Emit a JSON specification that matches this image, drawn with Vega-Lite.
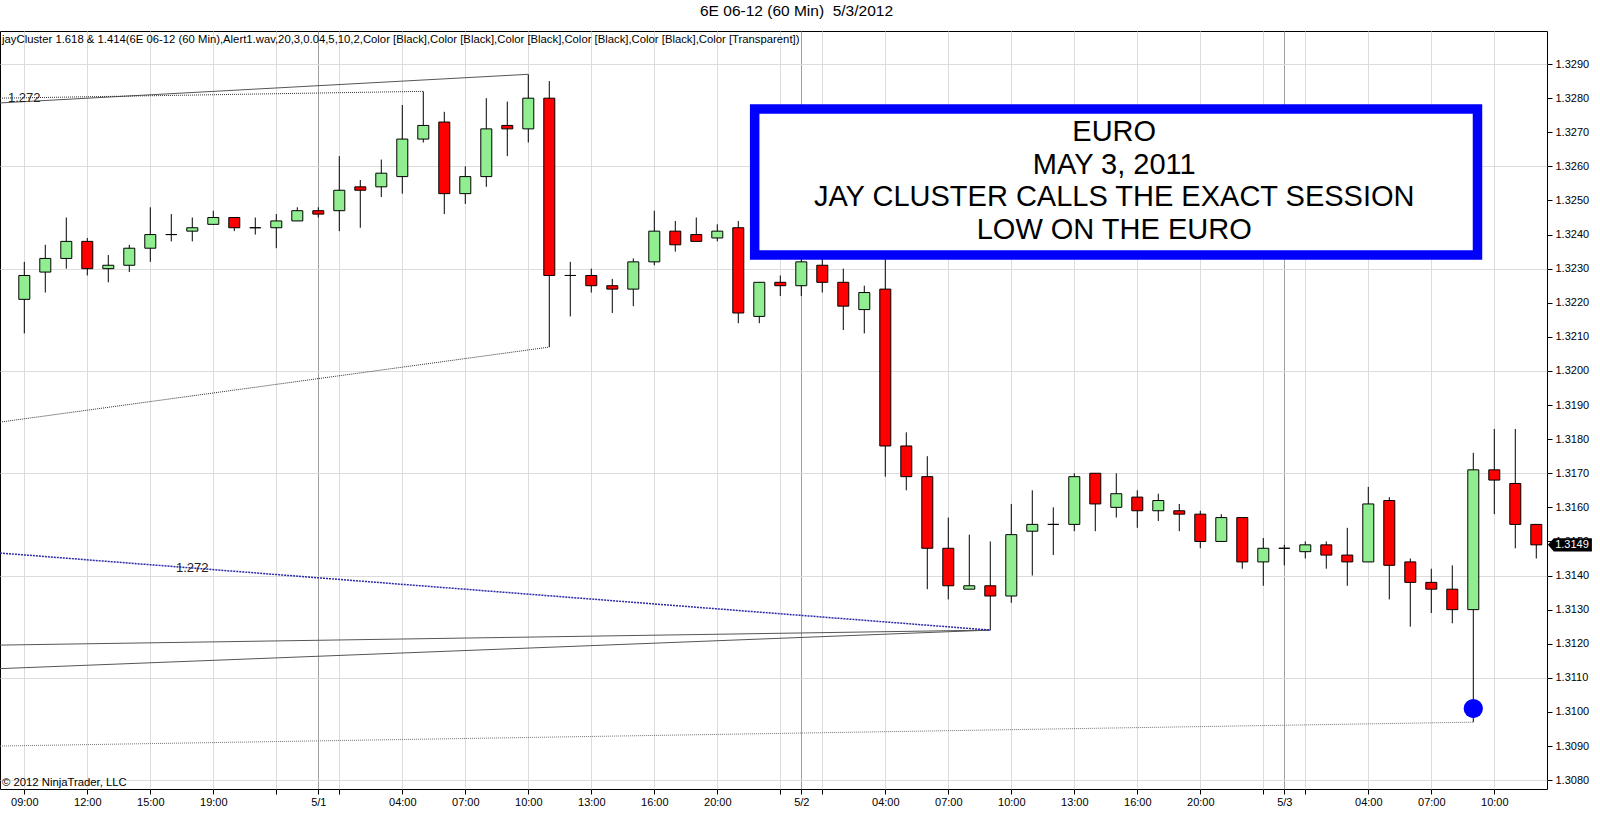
{
  "$schema": "https://vega.github.io/schema/vega-lite/v6.json",
  "autosize": "none",
  "width": 1547,
  "height": 758,
  "padding": {"left": 0, "top": 31, "right": 53, "bottom": 46},
  "background": "white",
  "title": {
    "text": "6E 06-12 (60 Min)\u00a0 5/3/2012",
    "anchor": "middle",
    "frame": "group",
    "dx": 23,
    "offset": 12,
    "font": "Liberation Sans",
    "fontSize": 15.5,
    "fontWeight": "normal",
    "color": "black"
  },
  "config": {
    "view": {"stroke": "black", "strokeWidth": 1},
    "text": {"font": "Liberation Sans"}
  },
  "datasets": {
    "candles": [
      {"t": "04-30 09:00", "i": 0, "open": 1.3221, "high": 1.3232, "low": 1.3211, "close": 1.3228},
      {"t": "04-30 10:00", "i": 1, "open": 1.3229, "high": 1.3237, "low": 1.3223, "close": 1.3233},
      {"t": "04-30 11:00", "i": 2, "open": 1.3233, "high": 1.3245, "low": 1.3230, "close": 1.3238},
      {"t": "04-30 12:00", "i": 3, "open": 1.3238, "high": 1.3239, "low": 1.3228, "close": 1.3230},
      {"t": "04-30 13:00", "i": 4, "open": 1.3230, "high": 1.3234, "low": 1.3226, "close": 1.3231},
      {"t": "04-30 14:00", "i": 5, "open": 1.3231, "high": 1.3237, "low": 1.3229, "close": 1.3236},
      {"t": "04-30 15:00", "i": 6, "open": 1.3236, "high": 1.3248, "low": 1.3232, "close": 1.3240},
      {"t": "04-30 16:00", "i": 7, "open": 1.3240, "high": 1.3246, "low": 1.3238, "close": 1.3240},
      {"t": "04-30 18:00", "i": 8, "open": 1.3241, "high": 1.3245, "low": 1.3238, "close": 1.3242},
      {"t": "04-30 19:00", "i": 9, "open": 1.3243, "high": 1.3247, "low": 1.3243, "close": 1.3245},
      {"t": "04-30 20:00", "i": 10, "open": 1.3245, "high": 1.3245, "low": 1.3241, "close": 1.3242},
      {"t": "04-30 21:00", "i": 11, "open": 1.3242, "high": 1.3245, "low": 1.3240, "close": 1.3242},
      {"t": "04-30 22:00", "i": 12, "open": 1.3242, "high": 1.3246, "low": 1.3236, "close": 1.3244},
      {"t": "04-30 23:00", "i": 13, "open": 1.3244, "high": 1.3248, "low": 1.3244, "close": 1.3247},
      {"t": "05-01 00:00", "i": 14, "open": 1.3247, "high": 1.3248, "low": 1.3245, "close": 1.3246},
      {"t": "05-01 01:00", "i": 15, "open": 1.3247, "high": 1.3263, "low": 1.3241, "close": 1.3253},
      {"t": "05-01 02:00", "i": 16, "open": 1.3254, "high": 1.3256, "low": 1.3242, "close": 1.3253},
      {"t": "05-01 03:00", "i": 17, "open": 1.3254, "high": 1.3262, "low": 1.3251, "close": 1.3258},
      {"t": "05-01 04:00", "i": 18, "open": 1.3257, "high": 1.3278, "low": 1.3252, "close": 1.3268},
      {"t": "05-01 05:00", "i": 19, "open": 1.3268, "high": 1.3282, "low": 1.3267, "close": 1.3272},
      {"t": "05-01 06:00", "i": 20, "open": 1.3273, "high": 1.3276, "low": 1.3246, "close": 1.3252},
      {"t": "05-01 07:00", "i": 21, "open": 1.3252, "high": 1.3260, "low": 1.3249, "close": 1.3257},
      {"t": "05-01 08:00", "i": 22, "open": 1.3257, "high": 1.3280, "low": 1.3254, "close": 1.3271},
      {"t": "05-01 09:00", "i": 23, "open": 1.3272, "high": 1.3279, "low": 1.3263, "close": 1.3271},
      {"t": "05-01 10:00", "i": 24, "open": 1.3271, "high": 1.3287, "low": 1.3267, "close": 1.3280},
      {"t": "05-01 11:00", "i": 25, "open": 1.3280, "high": 1.3285, "low": 1.3207, "close": 1.3228},
      {"t": "05-01 12:00", "i": 26, "open": 1.3228, "high": 1.3232, "low": 1.3216, "close": 1.3228},
      {"t": "05-01 13:00", "i": 27, "open": 1.3228, "high": 1.3230, "low": 1.3223, "close": 1.3225},
      {"t": "05-01 14:00", "i": 28, "open": 1.3225, "high": 1.3227, "low": 1.3217, "close": 1.3224},
      {"t": "05-01 15:00", "i": 29, "open": 1.3224, "high": 1.3233, "low": 1.3219, "close": 1.3232},
      {"t": "05-01 16:00", "i": 30, "open": 1.3232, "high": 1.3247, "low": 1.3231, "close": 1.3241},
      {"t": "05-01 18:00", "i": 31, "open": 1.3241, "high": 1.3244, "low": 1.3235, "close": 1.3237},
      {"t": "05-01 19:00", "i": 32, "open": 1.3240, "high": 1.3245, "low": 1.3238, "close": 1.3238},
      {"t": "05-01 20:00", "i": 33, "open": 1.3239, "high": 1.3243, "low": 1.3238, "close": 1.3241},
      {"t": "05-01 21:00", "i": 34, "open": 1.3242, "high": 1.3244, "low": 1.3214, "close": 1.3217},
      {"t": "05-01 22:00", "i": 35, "open": 1.3216, "high": 1.3226, "low": 1.3214, "close": 1.3226},
      {"t": "05-01 23:00", "i": 36, "open": 1.3226, "high": 1.3228, "low": 1.3222, "close": 1.3225},
      {"t": "05-02 00:00", "i": 37, "open": 1.3225, "high": 1.3236, "low": 1.3222, "close": 1.3232},
      {"t": "05-02 01:00", "i": 38, "open": 1.3231, "high": 1.3233, "low": 1.3223, "close": 1.3226},
      {"t": "05-02 02:00", "i": 39, "open": 1.3226, "high": 1.3230, "low": 1.3212, "close": 1.3219},
      {"t": "05-02 03:00", "i": 40, "open": 1.3218, "high": 1.3225, "low": 1.3211, "close": 1.3223},
      {"t": "05-02 04:00", "i": 41, "open": 1.3224, "high": 1.3236, "low": 1.3169, "close": 1.3178},
      {"t": "05-02 05:00", "i": 42, "open": 1.3178, "high": 1.3182, "low": 1.3165, "close": 1.3169},
      {"t": "05-02 06:00", "i": 43, "open": 1.3169, "high": 1.3175, "low": 1.3136, "close": 1.3148},
      {"t": "05-02 07:00", "i": 44, "open": 1.3148, "high": 1.3157, "low": 1.3133, "close": 1.3137},
      {"t": "05-02 08:00", "i": 45, "open": 1.3136, "high": 1.3152, "low": 1.3136, "close": 1.3137},
      {"t": "05-02 09:00", "i": 46, "open": 1.3137, "high": 1.3150, "low": 1.3124, "close": 1.3134},
      {"t": "05-02 10:00", "i": 47, "open": 1.3134, "high": 1.3161, "low": 1.3132, "close": 1.3152},
      {"t": "05-02 11:00", "i": 48, "open": 1.3153, "high": 1.3165, "low": 1.3140, "close": 1.3155},
      {"t": "05-02 12:00", "i": 49, "open": 1.3155, "high": 1.3160, "low": 1.3146, "close": 1.3155},
      {"t": "05-02 13:00", "i": 50, "open": 1.3155, "high": 1.3170, "low": 1.3153, "close": 1.3169},
      {"t": "05-02 14:00", "i": 51, "open": 1.3170, "high": 1.3170, "low": 1.3153, "close": 1.3161},
      {"t": "05-02 15:00", "i": 52, "open": 1.3160, "high": 1.3170, "low": 1.3157, "close": 1.3164},
      {"t": "05-02 16:00", "i": 53, "open": 1.3163, "high": 1.3165, "low": 1.3154, "close": 1.3159},
      {"t": "05-02 18:00", "i": 54, "open": 1.3159, "high": 1.3164, "low": 1.3156, "close": 1.3162},
      {"t": "05-02 19:00", "i": 55, "open": 1.3159, "high": 1.3161, "low": 1.3153, "close": 1.3158},
      {"t": "05-02 20:00", "i": 56, "open": 1.3158, "high": 1.3159, "low": 1.3148, "close": 1.3150},
      {"t": "05-02 21:00", "i": 57, "open": 1.3150, "high": 1.3158, "low": 1.3150, "close": 1.3157},
      {"t": "05-02 22:00", "i": 58, "open": 1.3157, "high": 1.3157, "low": 1.3142, "close": 1.3144},
      {"t": "05-02 23:00", "i": 59, "open": 1.3144, "high": 1.3151, "low": 1.3137, "close": 1.3148},
      {"t": "05-03 00:00", "i": 60, "open": 1.3148, "high": 1.3149, "low": 1.3143, "close": 1.3148},
      {"t": "05-03 01:00", "i": 61, "open": 1.3147, "high": 1.3150, "low": 1.3145, "close": 1.3149},
      {"t": "05-03 02:00", "i": 62, "open": 1.3149, "high": 1.3150, "low": 1.3142, "close": 1.3146},
      {"t": "05-03 03:00", "i": 63, "open": 1.3146, "high": 1.3154, "low": 1.3137, "close": 1.3144},
      {"t": "05-03 04:00", "i": 64, "open": 1.3144, "high": 1.3166, "low": 1.3144, "close": 1.3161},
      {"t": "05-03 05:00", "i": 65, "open": 1.3162, "high": 1.3163, "low": 1.3133, "close": 1.3143},
      {"t": "05-03 06:00", "i": 66, "open": 1.3144, "high": 1.3145, "low": 1.3125, "close": 1.3138},
      {"t": "05-03 07:00", "i": 67, "open": 1.3138, "high": 1.3142, "low": 1.3129, "close": 1.3136},
      {"t": "05-03 08:00", "i": 68, "open": 1.3136, "high": 1.3143, "low": 1.3126, "close": 1.3130},
      {"t": "05-03 09:00", "i": 69, "open": 1.3130, "high": 1.3176, "low": 1.3097, "close": 1.3171},
      {"t": "05-03 10:00", "i": 70, "open": 1.3171, "high": 1.3183, "low": 1.3158, "close": 1.3168},
      {"t": "05-03 11:00", "i": 71, "open": 1.3167, "high": 1.3183, "low": 1.3148, "close": 1.3155},
      {"t": "05-03 12:00", "i": 72, "open": 1.3155, "high": 1.3155, "low": 1.3145, "close": 1.3149}
    ],
    "trendlines": [
      {"id": "L1", "style": "solid", "i": -1.157, "price": 1.32786},
      {"id": "L1", "style": "solid", "i": 24, "price": 1.3287},
      {"id": "L2", "style": "dotted", "i": -1.157, "price": 1.3280},
      {"id": "L2", "style": "dotted", "i": 19, "price": 1.3282},
      {"id": "L3", "style": "dotted", "i": -1.157, "price": 1.3185},
      {"id": "L3", "style": "dotted", "i": 25, "price": 1.3207},
      {"id": "L4", "style": "blue", "i": -1.157, "price": 1.31466},
      {"id": "L4", "style": "blue", "i": 46, "price": 1.3124},
      {"id": "L5", "style": "solid", "i": -1.157, "price": 1.31196},
      {"id": "L5", "style": "solid", "i": 46, "price": 1.3124},
      {"id": "L6", "style": "solid", "i": -1.157, "price": 1.31127},
      {"id": "L6", "style": "solid", "i": 46, "price": 1.3124},
      {"id": "L7", "style": "faint", "i": -1.157, "price": 1.3090},
      {"id": "L7", "style": "faint", "i": 69, "price": 1.3097}
    ],
    "fib": [
      {"label": "1.272", "i": 0, "price": 1.3280},
      {"label": "1.272", "i": 8, "price": 1.31422}
    ],
    "marker": [{"i": 69, "price": 1.3101}],
    "last": [{"price": 1.3149, "label": "1.3149"}],
    "note": [{"text": "EURO|MAY 3, 2011|JAY CLUSTER CALLS THE EXACT SESSION|LOW ON THE EURO"}],
    "header": [{"text": "jayCluster 1.618 & 1.414(6E 06-12 (60 Min),Alert1.wav,20,3,0.04,5,10,2,Color [Black],Color [Black],Color [Black],Color [Black],Color [Black],Color [Transparent])"}],
    "footer": [{"text": "© 2012 NinjaTrader, LLC"}]
  },
  "layer": [
    {
      "data": {"name": "candles"},
      "mark": {"type": "rule", "color": "black", "strokeWidth": 1, "clip": true},
      "encoding": {
        "x": {
          "field": "i", "type": "quantitative",
          "scale": {"domain": [-1.157, 72.51], "nice": false, "zero": false, "padding": 0},
          "axis": {
            "title": null,
            "orient": "bottom",
            "values": [0, 3, 6, 9, 12, 14, 15, 18, 21, 24, 27, 30, 33, 36, 37, 38, 41, 44, 47, 50, 53, 56, 59, 60, 61, 64, 67, 70],
            "tickCount": 60,
            "labelExpr": "split('09:00,,,12:00,,,15:00,,,19:00,,,,,5/1,,,,04:00,,,07:00,,,10:00,,,13:00,,,16:00,,,20:00,,,,5/2,,,,04:00,,,07:00,,,10:00,,,13:00,,,16:00,,,20:00,,,,5/3,,,,04:00,,,07:00,,,10:00', ',')[datum.value]",
            "grid": true,
            "gridColor": {"condition": {"test": "datum.value == 14 || datum.value == 37 || datum.value == 60", "value": "#a0a0a0"}, "value": "#dcdcdc"},
            "gridWidth": 1,
            "domain": false,
            "ticks": true,
            "tickSize": 5,
            "tickColor": "black",
            "labelFont": "Liberation Sans",
            "labelFontSize": 11,
            "labelColor": "black",
            "labelPadding": 2,
            "labelOverlap": false,
            "labelFlush": false
          }
        },
        "y": {
          "field": "low", "type": "quantitative",
          "scale": {"domain": [1.30774, 1.32997], "nice": false, "zero": false, "padding": 0},
          "axis": {
            "title": null,
            "orient": "right",
            "values": [1.308, 1.309, 1.31, 1.311, 1.312, 1.313, 1.314, 1.315, 1.316, 1.317, 1.318, 1.319, 1.32, 1.321, 1.322, 1.323, 1.324, 1.325, 1.326, 1.327, 1.328, 1.329],
            "tickCount": 40,
            "format": ".4f",
            "grid": true,
            "gridColor": "#dcdcdc",
            "gridOpacity": {"condition": {"test": "round(datum.value * 10000) % 30 == 0", "value": 1}, "value": 0},
            "domain": false,
            "tickSize": 5,
            "tickColor": "black",
            "labelFont": "Liberation Sans",
            "labelFontSize": 11,
            "labelColor": "black",
            "labelPadding": 3,
            "labelOverlap": false,
            "labelFlush": false
          }
        },
        "y2": {"field": "high"}
      }
    },
    {
      "data": {"name": "trendlines"},
      "transform": [{"filter": "datum.style == 'solid'"}],
      "mark": {"type": "line", "color": "#555555", "strokeWidth": 1, "clip": true},
      "encoding": {
        "x": {"field": "i", "type": "quantitative"},
        "y": {"field": "price", "type": "quantitative"},
        "detail": {"field": "id"}
      }
    },
    {
      "data": {"name": "trendlines"},
      "transform": [{"filter": "datum.style == 'dotted'"}],
      "mark": {"type": "line", "color": "#333333", "strokeWidth": 1, "strokeDash": [1, 1], "clip": true},
      "encoding": {
        "x": {"field": "i", "type": "quantitative"},
        "y": {"field": "price", "type": "quantitative"},
        "detail": {"field": "id"}
      }
    },
    {
      "data": {"name": "trendlines"},
      "transform": [{"filter": "datum.style == 'faint'"}],
      "mark": {"type": "line", "color": "#777777", "strokeWidth": 1, "strokeDash": [1, 1], "clip": true},
      "encoding": {
        "x": {"field": "i", "type": "quantitative"},
        "y": {"field": "price", "type": "quantitative"},
        "detail": {"field": "id"}
      }
    },
    {
      "data": {"name": "trendlines"},
      "transform": [{"filter": "datum.style == 'blue'"}],
      "mark": {"type": "line", "color": "#2a2aa8", "strokeWidth": 1.5, "strokeDash": [2, 1], "clip": true},
      "encoding": {
        "x": {"field": "i", "type": "quantitative"},
        "y": {"field": "price", "type": "quantitative"},
        "detail": {"field": "id"}
      }
    },
    {
      "data": {"name": "candles"},
      "mark": {"type": "bar", "width": 11, "stroke": "black", "strokeWidth": 1, "clip": true},
      "encoding": {
        "x": {"field": "i", "type": "quantitative"},
        "y": {"field": "open", "type": "quantitative"},
        "y2": {"field": "close"},
        "color": {
          "condition": {"test": "datum.close >= datum.open", "value": "#90ee90"},
          "value": "#ff0000"
        }
      }
    },
    {
      "data": {"name": "note"},
      "mark": {"type": "rect", "fill": "white", "stroke": "#0000ff", "strokeWidth": 9.5, "clip": true},
      "encoding": {
        "x": {"datum": 34.78, "type": "quantitative"},
        "x2": {"datum": 69.2},
        "y": {"datum": 1.32768, "type": "quantitative"},
        "y2": {"datum": 1.3234}
      }
    },
    {
      "data": {"name": "note"},
      "mark": {"type": "text", "font": "Liberation Sans", "fontSize": 29, "lineBreak": "|", "lineHeight": 32.7, "align": "center", "baseline": "middle", "color": "black"},
      "encoding": {
        "x": {"datum": 51.9, "type": "quantitative"},
        "y": {"datum": 1.32701, "type": "quantitative"},
        "text": {"field": "text"}
      }
    },
    {
      "data": {"name": "fib"},
      "mark": {"type": "text", "font": "Liberation Sans", "fontSize": 13, "align": "center", "baseline": "middle", "color": "#222222"},
      "encoding": {
        "x": {"field": "i", "type": "quantitative"},
        "y": {"field": "price", "type": "quantitative"},
        "text": {"field": "label"}
      }
    },
    {
      "data": {"name": "header"},
      "mark": {"type": "text", "font": "Liberation Sans", "fontSize": 11.3, "align": "left", "baseline": "middle", "color": "black"},
      "encoding": {
        "x": {"datum": -1.06, "type": "quantitative"},
        "y": {"datum": 1.3297, "type": "quantitative"},
        "text": {"field": "text"}
      }
    },
    {
      "data": {"name": "footer"},
      "mark": {"type": "text", "font": "Liberation Sans", "fontSize": 11.3, "align": "left", "baseline": "middle", "color": "black"},
      "encoding": {
        "x": {"datum": -1.06, "type": "quantitative"},
        "y": {"datum": 1.30792, "type": "quantitative"},
        "text": {"field": "text"}
      }
    },
    {
      "data": {"name": "marker"},
      "mark": {"type": "point", "shape": "circle", "filled": true, "color": "#0000ff", "opacity": 1, "size": 370, "clip": true},
      "encoding": {
        "x": {"field": "i", "type": "quantitative"},
        "y": {"field": "price", "type": "quantitative"}
      }
    },
    {
      "data": {"name": "last"},
      "mark": {"type": "point", "shape": "M-1,0L-0.73,-0.3L1,-0.3L1,0.3L-0.73,0.3Z", "filled": true, "color": "black", "opacity": 1, "size": 1936, "clip": false},
      "encoding": {
        "x": {"datum": 73.6, "type": "quantitative"},
        "y": {"field": "price", "type": "quantitative"}
      }
    },
    {
      "data": {"name": "last"},
      "mark": {"type": "text", "font": "Liberation Sans", "fontSize": 11, "align": "center", "baseline": "middle", "color": "white", "clip": false},
      "encoding": {
        "x": {"datum": 73.7, "type": "quantitative"},
        "y": {"field": "price", "type": "quantitative"},
        "text": {"field": "label"}
      }
    }
  ]
}
